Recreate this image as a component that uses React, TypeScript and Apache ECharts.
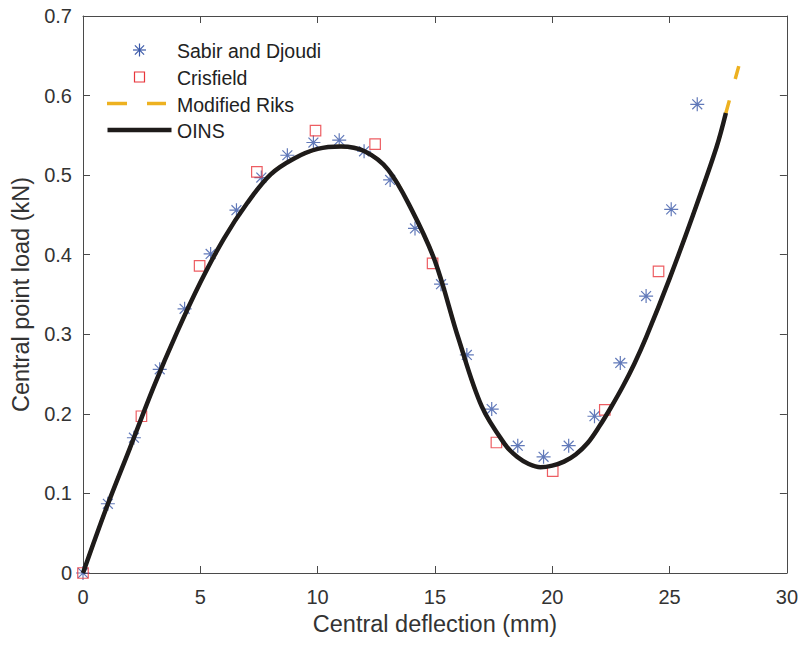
import React, { useEffect, useRef } from "react";
import * as echarts from "echarts";

// Sabir and Djoudi (asterisks)
const sabirX = [0, 1.06, 2.17, 3.27, 4.33, 5.44, 6.54, 7.6, 8.71, 9.82, 10.92, 11.98, 13.09, 14.15, 15.26, 16.36, 17.42, 18.53, 19.63, 20.7, 21.8, 22.9, 24.0, 25.07, 26.18];
const sabirY = [0, 0.087, 0.17, 0.256, 0.332, 0.401, 0.456, 0.497, 0.525, 0.541, 0.544, 0.53, 0.494, 0.433, 0.363, 0.274, 0.206, 0.16, 0.146, 0.16, 0.197, 0.264, 0.348, 0.457, 0.589];

// Crisfield (squares)
const crisX = [0, 2.49, 4.97, 7.41, 9.91, 12.45, 14.9, 17.62, 20.02, 22.24, 24.53];
const crisY = [0, 0.197, 0.386, 0.504, 0.556, 0.539, 0.389, 0.164, 0.128, 0.205, 0.379];

// OINS (solid black curve)
const oinsX = [0, 1, 2, 3, 4, 5, 6, 7, 8, 9, 10, 11, 12, 13, 14, 15, 16, 17, 18, 18.5, 19, 19.5, 20, 20.5, 21, 21.5, 22, 22.5, 23, 23.5, 24, 25, 26, 27, 27.4];
const oinsY = [0, 0.082, 0.157, 0.233, 0.302, 0.365, 0.42, 0.465, 0.501, 0.521, 0.533, 0.536, 0.53, 0.507, 0.457, 0.392, 0.295, 0.209, 0.161, 0.146, 0.137, 0.133, 0.135, 0.14, 0.149, 0.163, 0.184, 0.208, 0.234, 0.263, 0.296, 0.37, 0.45, 0.535, 0.578];

// Modified Riks (dashed yellow, extends beyond OINS)
const riksX = [...oinsX, 27.95];
const riksY = [...oinsY, 0.637];

const xTicks = [0, 5, 10, 15, 20, 25, 30];
const yTicks = [0, 0.1, 0.2, 0.3, 0.4, 0.5, 0.6, 0.7];

const legendNames = ["Sabir and Djoudi", "Crisfield", "Modified Riks", "OINS"];

const BLUE = "#3A58A8";
const RED = "#E8353B";
const YELLOW = "#EDB120";
const BLACK = "#1E1B1A";
const AXIS = "#4a4a4a";
const TEXT = "#333333";
const FONT = "'Liberation Sans', Arial, Helvetica, sans-serif";

const ASTERISK = "path://M7,0L7,14M0,7L14,7M2.05,2.05L11.95,11.95M2.05,11.95L11.95,2.05";

export default function App() {
  const ref = useRef<HTMLDivElement>(null);
  useEffect(() => {
    const chart = echarts.init(ref.current!, null, { renderer: "svg" });
    const axisCommon = {
      type: "value" as const,
      axisLine: { show: true, onZero: false, lineStyle: { color: AXIS, width: 1 } },
      axisTick: { show: true, inside: true, length: 7, lineStyle: { color: AXIS, width: 1 } },
      splitLine: { show: false },
    };
    const lx = 139.5;
    const ast = (cx: number, cy: number, r: number) => {
      const d = r * 0.7071;
      return [
        [cx - r, cy, cx + r, cy],
        [cx, cy - r, cx, cy + r],
        [cx - d, cy - d, cx + d, cy + d],
        [cx - d, cy + d, cx + d, cy - d],
      ].map((p) => ({
        type: "line",
        shape: { x1: p[0], y1: p[1], x2: p[2], y2: p[3] },
        style: { stroke: BLUE, lineWidth: 1.2 },
      }));
    };
    const textY = [50.5, 77.5, 104.5, 131];
    const option: any = {
      animation: false,
      backgroundColor: "#ffffff",
      grid: { left: 83, right: 12, top: 16, bottom: 73 },
      xAxis: [
        {
          ...axisCommon,
          min: 0,
          max: 30,
          interval: 5,
          position: "bottom",
          name: "Central deflection (mm)",
          nameLocation: "middle",
          nameGap: 37,
          nameTextStyle: { fontSize: 23.5, color: TEXT, fontFamily: FONT },
          axisLabel: {
            margin: 14,
            fontSize: 20,
            color: TEXT,
            fontFamily: FONT,
            formatter: (v: number) => (xTicks.includes(v) ? String(v) : ""),
          },
        },
        {
          ...axisCommon,
          min: 0,
          max: 30,
          interval: 5,
          position: "top",
          axisLabel: { show: false },
        },
      ],
      yAxis: [
        {
          ...axisCommon,
          min: 0,
          max: 0.7,
          interval: 0.1,
          position: "left",
          name: "Central point load (kN)",
          nameLocation: "middle",
          nameGap: 47,
          nameTextStyle: { fontSize: 23.5, color: TEXT, fontFamily: FONT },
          axisLabel: {
            margin: 11,
            fontSize: 20,
            color: TEXT,
            fontFamily: FONT,
            formatter: (v: number) => {
              const t = yTicks.find((k) => Math.abs(k - v) < 1e-6);
              return t === undefined ? "" : String(Math.round(t * 10) / 10);
            },
          },
        },
        {
          ...axisCommon,
          min: 0,
          max: 0.7,
          interval: 0.1,
          position: "right",
          axisLabel: { show: false },
        },
      ],
      series: [
        {
          name: legendNames[0],
          type: "scatter",
          data: sabirX.map((x, i) => [x, sabirY[i]]),
          symbol: ASTERISK,
          symbolSize: 14,
          itemStyle: { color: "none", borderColor: BLUE, borderWidth: 1.2 },
          z: 2,
        },
        {
          name: legendNames[1],
          type: "scatter",
          data: crisX.map((x, i) => [x, crisY[i]]),
          symbol: "rect",
          symbolSize: 10.5,
          itemStyle: { color: "none", borderColor: RED, borderWidth: 1.2 },
          z: 2,
        },
        {
          name: legendNames[2],
          type: "line",
          data: riksX.map((x, i) => [x, riksY[i]]).reverse(),
          showSymbol: false,
          smooth: 0.35,
          lineStyle: { color: YELLOW, width: 3.5, type: [13.5, 22], cap: "butt" },
          z: 3,
        },
        {
          name: legendNames[3],
          type: "line",
          data: oinsX.map((x, i) => [x, oinsY[i]]),
          showSymbol: false,
          smooth: 0.35,
          lineStyle: { color: BLACK, width: 4.5, cap: "butt" },
          z: 4,
        },
      ],
      graphic: [
        ...ast(lx, 50, 6.5),
        {
          type: "rect",
          shape: { x: lx - 5, y: 72, width: 10, height: 10 },
          style: { stroke: RED, fill: "none", lineWidth: 1.2 },
        },
        {
          type: "line",
          shape: { x1: 107, y1: 103.5, x2: 127, y2: 103.5 },
          style: { stroke: YELLOW, lineWidth: 3.5 },
        },
        {
          type: "line",
          shape: { x1: 147, y1: 103.5, x2: 166, y2: 103.5 },
          style: { stroke: YELLOW, lineWidth: 3.5 },
        },
        {
          type: "line",
          shape: { x1: 107.5, y1: 130, x2: 171.5, y2: 130 },
          style: { stroke: BLACK, lineWidth: 4.5 },
        },
        ...legendNames.map((n, i) => ({
          type: "text",
          x: 177,
          y: textY[i],
          style: {
            text: n,
            fontSize: 19.5,
            fontFamily: FONT,
            fill: "#222222",
            verticalAlign: "middle",
            align: "left",
          },
        })),
      ],
    };
    chart.setOption(option);
    return () => chart.dispose();
  }, []);
  return (
    <div
      ref={ref}
      style={{ position: "absolute", left: 0, top: 0, width: 801, height: 646, background: "#fff" }}
    />
  );
}
